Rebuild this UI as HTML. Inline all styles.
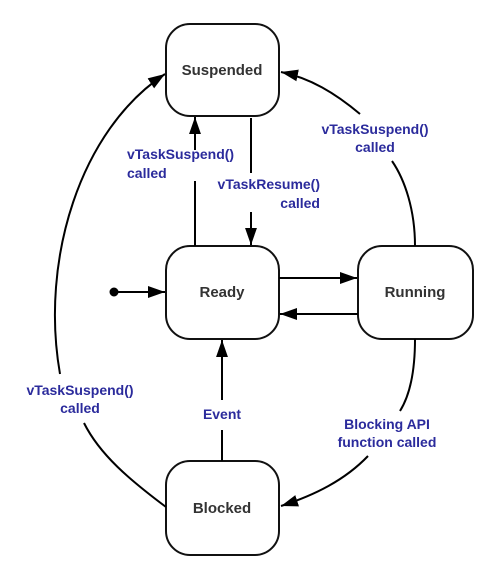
<!DOCTYPE html>
<html><head><style>body{margin:0;background:#fff}svg{display:block}</style></head><body>
<svg width="483" height="569" viewBox="0 0 483 569" xmlns="http://www.w3.org/2000/svg" font-family="Liberation Sans, sans-serif" font-weight="bold">
<defs>
<marker id="b" viewBox="0 0 10 10" refX="10" refY="5" markerWidth="17" markerHeight="17" orient="auto" markerUnits="userSpaceOnUse"><path d="M0,1.5L10,5L0,8.5z" fill="#000"/></marker></defs>
<g fill="#fff" stroke="#111" stroke-width="2">
<rect x="166" y="24" width="113" height="92" rx="24"/>
<rect x="166" y="246" width="113" height="93" rx="24"/>
<rect x="358" y="246" width="115" height="93" rx="24"/>
<rect x="166" y="461" width="113" height="94" rx="24"/>
</g>
<g font-size="15" fill="#333" text-anchor="middle">
<text x="222" y="75">Suspended</text><text x="222" y="297">Ready</text>
<text x="415" y="297">Running</text><text x="222" y="513">Blocked</text>
</g>
<g stroke="#000" stroke-width="2" fill="none">
<circle cx="114" cy="292" r="3.5" fill="#000"/>
<line x1="114" y1="292" x2="165" y2="292" marker-end="url(#b)"/>
<line x1="279" y1="278" x2="357" y2="278" marker-end="url(#b)"/>
<line x1="358" y1="314" x2="280" y2="314" marker-end="url(#b)"/>
<line x1="195" y1="246" x2="195" y2="181"/>
<line x1="195" y1="150" x2="195" y2="117" marker-end="url(#b)"/>
<line x1="251" y1="118" x2="251" y2="173"/>
<line x1="251" y1="212" x2="251" y2="245" marker-end="url(#b)"/>
<line x1="222" y1="461" x2="222" y2="430"/>
<line x1="222" y1="400" x2="222" y2="340" marker-end="url(#b)"/>
<path d="M415 246 C415 210 405 180 392 161"/>
<path d="M360 114 C335 93 310 78 281 72" marker-end="url(#b)"/>
<path d="M166 507 C130 480 100 455 84 423"/>
<path d="M60 374 C40 260 80 130 165 74" marker-end="url(#b)"/>
<path d="M415 339 C415 370 410 395 400 411"/>
<path d="M368 456 C345 480 315 495 281 506" marker-end="url(#b)"/>
</g>
<g font-size="14" fill="#2b2b9c">
<text x="127" y="159">vTaskSuspend()</text><text x="127" y="178">called</text>
<text x="320" y="189" text-anchor="end">vTaskResume()</text><text x="320" y="208" text-anchor="end">called</text>
<text x="375" y="134" text-anchor="middle">vTaskSuspend()</text><text x="375" y="152" text-anchor="middle">called</text>
<text x="80" y="395" text-anchor="middle">vTaskSuspend()</text><text x="80" y="413" text-anchor="middle">called</text>
<text x="222" y="419" text-anchor="middle">Event</text>
<text x="387" y="429" text-anchor="middle">Blocking API</text><text x="387" y="447" text-anchor="middle">function called</text>
</g>
</svg>
</body></html>
